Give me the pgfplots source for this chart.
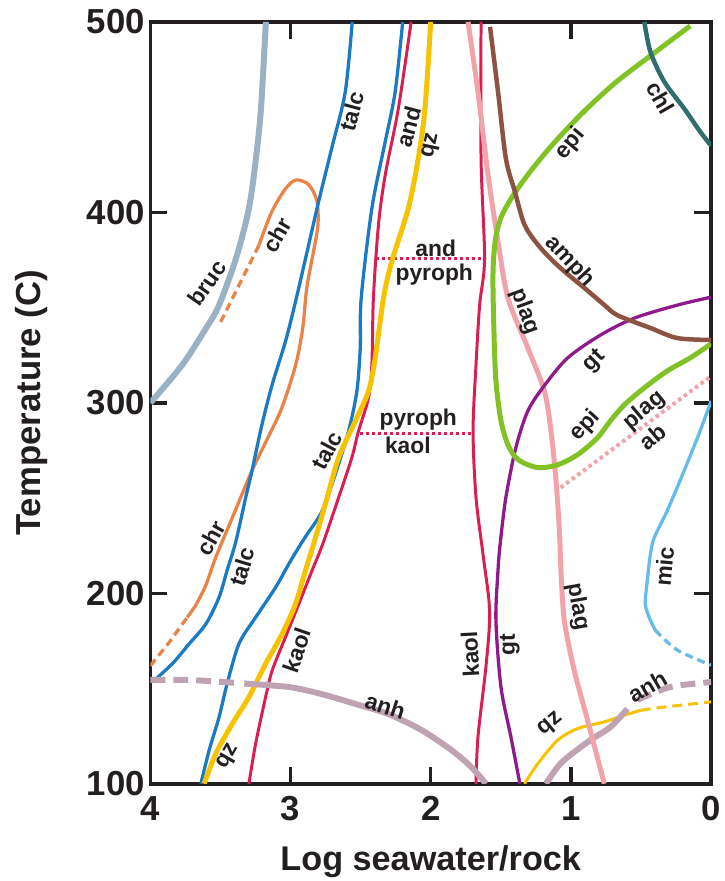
\documentclass[border=0pt]{standalone}
\usepackage{fontspec}
\setmainfont{Liberation Sans}
\usepackage{pgfplots}
\pgfplotsset{compat=1.18}
\definecolor{cbruc}{HTML}{9BB1C4}
\definecolor{cchr}{HTML}{E8844A}
\definecolor{ctalc}{HTML}{1A7AC4}
\definecolor{cred}{HTML}{DA1E52}
\definecolor{cqz}{HTML}{F7C200}
\definecolor{canh}{HTML}{BFA3B3}
\definecolor{cplag}{HTML}{F2A3AA}
\definecolor{cgt}{HTML}{8E1B8C}
\definecolor{cepi}{HTML}{82C227}
\definecolor{camph}{HTML}{8C5343}
\definecolor{cchl}{HTML}{2F6E6C}
\definecolor{cmic}{HTML}{66BBEA}
\definecolor{cframe}{HTML}{231F20}
\tikzset{lbl/.style={font=\fontsize{23}{23}\selectfont\bfseries, text=cframe, inner sep=1bp}}
\begin{document}
\begin{tikzpicture}
\begin{axis}[
  scale only axis, width=563bp, height=765bp,
  xmin=0, xmax=4, x dir=reverse, ymin=100, ymax=500,
  xtick={0,1,2,3,4}, ytick={100,200,300,400,500},
  tick align=inside, major tick length=17bp,
  axis line style={line width=3.5bp, cframe},
  tick style={line width=3.5bp, cframe},
  tick label style={font=\fontsize{35}{35}\selectfont\bfseries, text=cframe},
  /pgf/number format/assume math mode=true,
  xticklabel style={yshift=-9bp},
  yticklabel style={xshift=-2bp},
]
\coordinate (ll) at (rel axis cs:0,0);
\coordinate (ml) at (rel axis cs:0,0.5);
\coordinate (bm) at (rel axis cs:0.5,0);

% bruc
\addplot[cbruc, line width=6bp, smooth] coordinates {(4,300) (3.773,319.9) (3.602,339.3) (3.51,351.3) (3.389,375.9) (3.297,402.1) (3.247,428.3) (3.211,454.5) (3.176,500)};
% chr
\addplot[cchr, line width=3.3bp, dash pattern=on 8bp off 5bp] coordinates {(4,162) (3.865,174.3) (3.737,187.4)};
\addplot[cchr, line width=3.3bp, smooth] coordinates {(3.737,187.4) (3.673,194.2) (3.602,204.7) (3.534,218.8) (3.403,241.9) (3.275,264.4) (3.155,282.7) (3.062,297.4) (2.963,320) (2.913,339.3) (2.885,360) (2.84,378) (2.805,393) (2.812,406) (2.87,414.5) (2.96,417) (3.034,412.6) (3.133,400.5) (3.226,382.7)};
\addplot[cchr, line width=3.3bp, dash pattern=on 8bp off 5bp] coordinates {(3.226,382.7) (3.51,340.8)};
% talc left
\addplot[ctalc, line width=3.3bp, smooth] coordinates {(3.986,153.4) (3.844,163) (3.723,173.5) (3.604,183.9) (3.51,197.9) (3.453,212) (3.391,227) (3.32,250.3) (3.275,264.4) (3.204,288.6) (3.131,309.6) (3.036,332.3) (2.965,353) (2.88,380) (2.8,405.6) (2.707,433.5) (2.61,463.2) (2.56,500)};
% talc right
\addplot[ctalc, line width=3.3bp, smooth] coordinates {(3.64,100) (3.58,117.8) (3.51,135) (3.453,152.4) (3.368,173.5) (3.249,187.4) (3.107,203.1) (3.0,217) (2.9,229) (2.776,243) (2.681,262.5) (2.586,285.2) (2.527,306.1) (2.503,328.8) (2.496,355) (2.42,402.1) (2.325,437) (2.254,463.2) (2.2,500)};
% kaol / and left (red)
\addplot[cred, line width=3bp, smooth] coordinates {(3.297,100) (3.249,121.1) (3.178,145.5) (3.131,159.5) (3.036,177) (2.941,194.4) (2.847,211.9) (2.77,226) (2.657,250.3) (2.563,271.2) (2.515,285.2) (2.444,302.6) (2.42,320) (2.409,355) (2.373,393.3) (2.325,419.5) (2.231,454.5) (2.14,500)};
% kaol right (red)
\addplot[cred, line width=3bp, smooth] coordinates {(1.641,500) (1.641,428.3) (1.616,375.9) (1.651,351.5) (1.677,320) (1.698,285.3) (1.677,250.3) (1.627,220.4) (1.58,190.9) (1.604,163) (1.663,124.6) (1.677,100)};
% dotted reactions
\addplot[cred, line width=3bp, dash pattern=on 3bp off 3bp] coordinates {(2.387,375.6) (1.641,375.6)};
\addplot[cred, line width=3bp, dash pattern=on 3bp off 3bp] coordinates {(2.503,283.8) (1.698,283.8)};
% qz left
\addplot[cqz, line width=5bp, smooth] coordinates {(3.616,100) (3.533,115.9) (3.415,131.6) (3.297,145.5) (3.178,163) (3.06,178.7) (2.965,194.4) (2.894,211.9) (2.835,226) (2.752,246.8) (2.657,271.2) (2.538,290.4) (2.444,306.1) (2.396,323.6) (2.337,355) (2.278,374.2) (2.16,402.1) (2.089,428.3) (2.041,454.5) (2.0,500)};
% qz right
\addplot[cqz, line width=3bp, smooth] coordinates {(1.331,100) (1.236,110.6) (1.094,122.9) (0.952,129) (0.762,132.5) (0.62,136) (0.502,138.6)};
\addplot[cqz, line width=3bp, dash pattern=on 10bp off 6bp] coordinates {(0.502,138.6) (0.336,140.3) (0,143)};
% anh left
\addplot[canh, line width=6bp, dash pattern=on 15bp off 8bp] coordinates {(4,154.5) (3.7,154.5) (3.39,153)};
\addplot[canh, line width=6bp, smooth] coordinates {(3.33,152.6) (3.012,150.8) (2.778,147.1) (2.536,141.9) (2.302,136.6) (2.068,128.3) (1.854,117.8) (1.712,108.9) (1.606,100)};
% anh right
\addplot[canh, line width=6bp, smooth] coordinates {(1.179,100) (1.094,108.9) (1.023,114) (0.86,123) (0.718,129.8) (0.597,139.4)};
\addplot[canh, line width=6bp, dash pattern=on 15bp off 8bp, smooth] coordinates {(0.526,144) (0.291,150.8) (0,153.4)};
% plag
\addplot[cplag, line width=5bp, smooth] coordinates {(1.734,500) (1.663,463.2) (1.591,419.5) (1.52,384.7) (1.449,355) (1.307,328.8) (1.189,306.1) (1.142,285.2) (1.106,259) (1.082,232.8) (1.071,211.9) (1.047,185.7) (0.976,159.5) (0.881,133.4) (0.762,100)};
\addplot[cplag, line width=4bp, dash pattern=on 3.5bp off 3.5bp] coordinates {(1.073,255.5) (0,314)};
% gt
\addplot[cgt, line width=3.3bp, smooth] coordinates {(1.364,100) (1.428,124.6) (1.499,150.8) (1.535,185.9) (1.52,212) (1.506,225) (1.464,250.3) (1.393,276.4) (1.307,295.8) (1.186,309.4) (1.023,323.6) (0.789,335.6) (0.547,344.5) (0.241,351.3) (0,355.5)};
% epi
\addplot[cepi, line width=5bp, smooth] coordinates {(0.149,497.9) (0.433,482.2) (0.668,469) (0.85,457) (1.0,446) (1.15,434) (1.3,420.5) (1.42,408) (1.5,397) (1.54,385) (1.556,367) (1.549,337.7) (1.535,311.5) (1.499,290.6) (1.449,278) (1.378,270.2) (1.236,266) (1.094,267.5) (0.952,272.8) (0.81,281.7) (0.718,290.6) (0.618,299) (0.476,307.9) (0.312,316.8) (0.149,323.6) (0,331)};
% amph
\addplot[camph, line width=4.5bp, smooth] coordinates {(1.577,497.4) (1.52,463.4) (1.464,428.3) (1.4,411) (1.329,393.2) (1.215,381.2) (1.073,370.7) (0.902,360.2) (0.76,351.3) (0.668,346) (0.433,339.3) (0.241,334) (0,333)};
% chl
\addplot[cchl, line width=4.5bp, smooth] coordinates {(0.476,500) (0.433,484.3) (0.334,468.6) (0.192,454.5) (0.078,442.4) (0,435)};
% mic
\addplot[cmic, line width=3.3bp, smooth] coordinates {(0,301) (0.078,285.3) (0.192,264.4) (0.312,243.5) (0.405,229.3) (0.433,220.4) (0.455,206.8) (0.469,194.2) (0.433,185.9) (0.398,180.6)};
\addplot[cmic, line width=3.3bp, dash pattern=on 8bp off 5bp, smooth] coordinates {(0.398,180.6) (0.241,170.2) (0,162.3)};

% labels
\node[lbl, rotate=55] at (axis cs:3.595,363) {bruc};
\node[lbl, rotate=60] at (axis cs:3.098,388) {chr};
\node[lbl, rotate=75] at (axis cs:2.565,453) {talc};
\node[lbl, rotate=75] at (axis cs:2.16,445) {and};
\node[lbl, rotate=78] at (axis cs:1.996,435) {qz};
\node[lbl] at (axis cs:1.964,381.2) {and};
\node[lbl] at (axis cs:1.975,367.2) {pyroph};
\node[lbl] at (axis cs:2.089,291.2) {pyroph};
\node[lbl] at (axis cs:2.163,277.7) {kaol};
\node[lbl, rotate=62] at (axis cs:2.742,275) {talc};
\node[lbl, rotate=61] at (axis cs:3.567,229) {chr};
\node[lbl, rotate=73] at (axis cs:3.346,214) {talc};
\node[lbl, rotate=71] at (axis cs:2.956,170) {kaol};
\node[lbl, rotate=60] at (axis cs:3.439,114) {qz};
\node[lbl, rotate=-18] at (axis cs:2.323,141) {anh};
\node[lbl, rotate=93] at (axis cs:1.719,168) {kaol};
\node[lbl, rotate=90] at (axis cs:1.435,173) {gt};
\node[lbl, rotate=-80] at (axis cs:0.952,193) {plag};
\node[lbl, rotate=-70] at (axis cs:1.329,348) {plag};
\node[lbl, rotate=45] at (axis cs:0.831,322) {gt};
\node[lbl, rotate=48] at (axis cs:0.895,288) {epi};
\node[lbl, rotate=40] at (axis cs:0.476,296) {plag};
\node[lbl, rotate=40] at (axis cs:0.419,282) {ab};
\node[lbl, rotate=85] at (axis cs:0.334,214) {mic};
\node[lbl, rotate=30] at (axis cs:0.455,151) {anh};
\node[lbl, rotate=40] at (axis cs:1.144,131) {qz};
\node[lbl, rotate=50] at (axis cs:1.002,436) {epi};
\node[lbl, rotate=-60] at (axis cs:0.362,460) {chl};
\node[lbl, rotate=-47] at (axis cs:1.009,374) {amph};
\end{axis}
\node[font=\fontsize{34.5}{34.5}\selectfont\bfseries, text=cframe, anchor=base] at ([yshift=-87bp]bm) {Log seawater/rock};
\node[font=\fontsize{35}{35}\selectfont\bfseries, text=cframe, anchor=base, rotate=90] at ([xshift=-110bp]ml) {Temperature (C)};
\path ([shift={(-151bp,-94bp)}]ll) rectangle ++(720bp,881bp);
\end{tikzpicture}
\end{document}
